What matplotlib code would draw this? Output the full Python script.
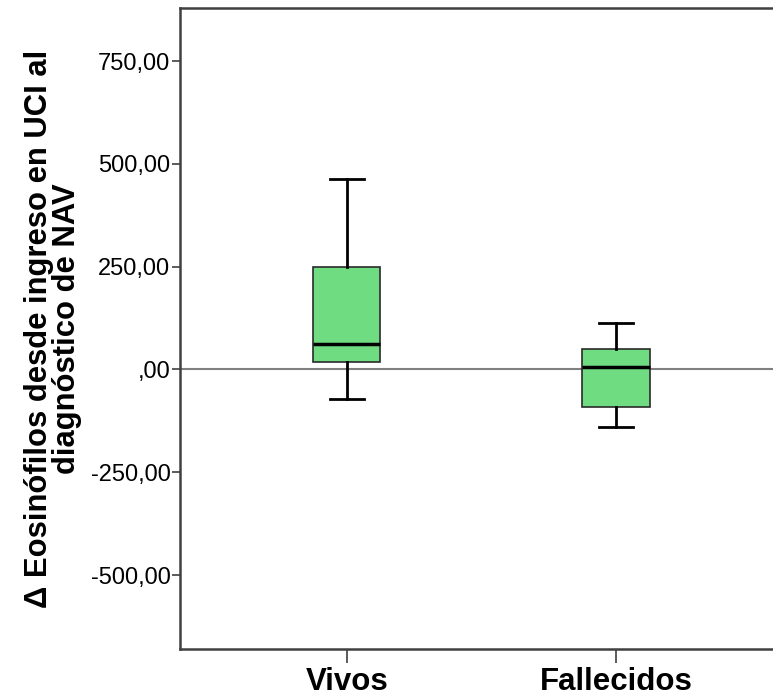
import matplotlib
matplotlib.use('Agg')
import matplotlib.pyplot as plt

# datos (estadísticos del boxplot)
grupos = ['Vivos', 'Fallecidos']
mediana = [63, 5]
q1 = [17, -92]
q3 = [250, 49]
bigote_inf = [-73, -141]
bigote_sup = [464, 114]
yticks = [-500, -250, 0, 250, 500, 750]
ytick_labels = ['-500,00', '-250,00', ',00', '250,00', '500,00', '750,00']

plt.rcParams['font.family'] = ['Liberation Sans', 'DejaVu Sans']

stats = []
for i, g in enumerate(grupos):
    stats.append({'label': g, 'med': mediana[i], 'q1': q1[i], 'q3': q3[i],
                  'whislo': bigote_inf[i], 'whishi': bigote_sup[i], 'fliers': []})

fig = plt.figure(figsize=(7.73, 6.99), dpi=100)
ax = fig.add_axes([0.233, 0.0715, 0.80, 0.917])

ax.axhline(0, color='#808080', linewidth=1.5, zorder=1)

ax.bxp(stats, positions=[1, 2], widths=0.25, patch_artist=True,
       boxprops=dict(facecolor='#6fdc82', edgecolor='#2a2a2a', linewidth=1.2),
       medianprops=dict(color='black', linewidth=2.5),
       whiskerprops=dict(color='black', linewidth=2),
       capprops=dict(color='black', linewidth=2),
       capwidths=0.126, zorder=3)

ax.set_xlim(0.381, 2.578 + 0.1)
ax.set_ylim(-680, 879)
ax.set_yticks(yticks)
ax.set_yticklabels(ytick_labels, fontsize=17)
ax.set_xticks([1, 2])
ax.set_xticklabels(grupos, fontsize=22.5, fontweight='bold')
ax.tick_params(axis='y', length=6, width=1.2, color='#404040', pad=1)
ax.tick_params(axis='x', length=10, width=1.2, color='#404040', pad=3)

for s in ['left', 'top', 'bottom']:
    ax.spines[s].set_color('#404040')
    ax.spines[s].set_linewidth(1.8)
ax.spines['right'].set_visible(False)

ax.set_ylabel('Δ Eosinófilos desde ingreso en UCI al\ndiagnóstico de NAV',
              fontsize=22.3, fontweight='bold', linespacing=0.9, labelpad=6)

plt.savefig('out.png', dpi=100)
